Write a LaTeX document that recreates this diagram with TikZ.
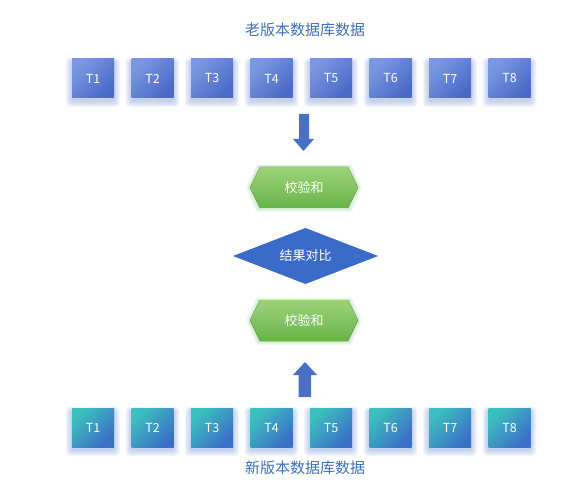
\documentclass[tikz,border=0pt]{standalone}
\usepackage{fontspec}
\setmainfont{Noto Sans CJK SC}
\usetikzlibrary{calc}
\definecolor{titleblue}{HTML}{3E6FB8}
\definecolor{boxA}{HTML}{7A98E0}
\definecolor{boxB}{HTML}{4A69C8}
\definecolor{tealA}{HTML}{3CC0BE}
\definecolor{tealB}{HTML}{3C6FC8}
\definecolor{greenA}{HTML}{9ED37A}
\definecolor{greenB}{HTML}{68B44A}
\definecolor{diam}{HTML}{3B6BC9}
\definecolor{arrowc}{HTML}{4A70C6}
\tikzset{
  tbox/.style={minimum width=42pt, minimum height=39pt, inner sep=0pt, text=white, font=\fontsize{12.5}{14}\selectfont},
  oldbox/.style={tbox, left color=boxA, right color=boxB, shading angle=45},
  newbox/.style={tbox, left color=tealA, right color=tealB, shading angle=45},
  title/.style={text=titleblue, font=\fontsize{15}{17}\selectfont},
  lbl/.style={text=white, font=\fontsize{13}{15}\selectfont},
  hexfill/.style={top color=greenA, bottom color=greenB, draw=none},
  glow/.style={fill=#1, fill opacity=0.07, rounded corners=4pt},
}
\newcommand{\softshadow}[2]{% center, colour
  \foreach \g in {1,...,5}{
    \fill[glow=#2] ($(#1)+({-21-\g*1.2},{-17.5-\g*0.6})$) rectangle ($(#1)+({21+\g*1.2},{22.5+\g*1.2})$);
  }
}
\begin{document}
\begin{tikzpicture}[x=1pt,y=-1pt]
\useasboundingbox (0,0) rectangle (588,486);
\node[title] (told) at (305,30) {老版本数据库数据};
\node[title] (tnew) at (305,468) {新版本数据库数据};
\foreach \i in {1,...,8}{
  \coordinate (po\i) at ({93+(\i-1)*59.5},78.5);
  \coordinate (pn\i) at ({93+(\i-1)*59.5},427.5);
  \softshadow{po\i}{boxB}
  \softshadow{pn\i}{tealB}
  \node[oldbox] (o\i) at (po\i) {T\i};
  \node[newbox] (n\i) at (pn\i) {T\i};
}
% down arrow
\fill[arrowc] (299,114) -- (309,114) -- (309,139) -- (314,139) -- (303.5,151) -- (293,139) -- (299,139) -- cycle;
% hexagon 1
\coordinate (h1) at (304,187.5);
\foreach \g in {1,...,4}{
  \fill[green!60!black, fill opacity=0.05] ($(h1)+({-54-\g},0)$) -- ($(h1)+({-44-\g},{-20.5-\g*0.6})$) -- ($(h1)+({44+\g},{-20.5-\g*0.6})$) -- ($(h1)+({54+\g},0)$) -- ($(h1)+({44+\g},{20.5+\g})$) -- ($(h1)+({-44-\g},{20.5+\g})$) -- cycle;
}
\fill[hexfill] ($(h1)+(-54,0)$) -- ($(h1)+(-44,-20.5)$) -- ($(h1)+(44,-20.5)$) -- ($(h1)+(54,0)$) -- ($(h1)+(44,20.5)$) -- ($(h1)+(-44,20.5)$) -- cycle;
\node[lbl] (c1) at (h1) {校验和};
% diamond
\coordinate (d) at (305.5,256);
\fill[diam] ($(d)+(-72.5,0)$) -- ($(d)+(0,-28)$) -- ($(d)+(72.5,0)$) -- ($(d)+(0,28)$) -- cycle;
\node[lbl] (cmp) at (d) {结果对比};
% hexagon 2
\coordinate (h2) at (304,320.5);
\foreach \g in {1,...,4}{
  \fill[green!60!black, fill opacity=0.05] ($(h2)+({-54-\g},0)$) -- ($(h2)+({-44-\g},{-20.5-\g*0.6})$) -- ($(h2)+({44+\g},{-20.5-\g*0.6})$) -- ($(h2)+({54+\g},0)$) -- ($(h2)+({44+\g},{20.5+\g})$) -- ($(h2)+({-44-\g},{20.5+\g})$) -- cycle;
}
\fill[hexfill] ($(h2)+(-54,0)$) -- ($(h2)+(-44,-20.5)$) -- ($(h2)+(44,-20.5)$) -- ($(h2)+(54,0)$) -- ($(h2)+(44,20.5)$) -- ($(h2)+(-44,20.5)$) -- cycle;
\node[lbl] (c2) at (h2) {校验和};
% up arrow
\fill[arrowc] (298.5,397) -- (311,397) -- (311,375) -- (317,375) -- (305,362) -- (293,375) -- (298.5,375) -- cycle;
\end{tikzpicture}
\end{document}
